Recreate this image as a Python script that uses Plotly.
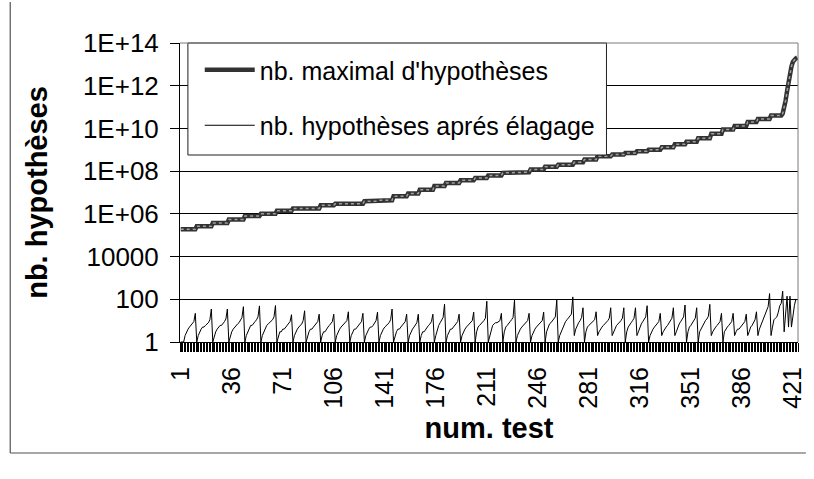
import plotly.graph_objects as go

# Test numbers (category axis) and the labelled ticks
tests = list(range(1, 425))
tick_pos = [1, 36, 71, 106, 141, 176, 211, 246, 281, 316, 351, 386, 421]
tick_txt = ["1", "36", "71", "106", "141", "176", "211", "246", "281", "316", "351", "386", "421"]

y_tick_vals = [1, 1e2, 1e4, 1e6, 1e8, 1e10, 1e12, 1e14]
y_tick_txt = ["1", "100", "10000", "1E+06", "1E+08", "1E+10", "1E+12", "1E+14"]

# Maximal number of hypotheses per test
max_hyp = [
    1.9e5, 1.9e5, 1.9e5, 1.9e5, 1.9e5, 1.9e5, 1.9e5, 1.9e5, 1.9e5, 1.9e5, 1.9e5,
    2.6e5, 2.6e5, 2.6e5, 2.6e5, 2.6e5, 2.6e5, 2.6e5, 2.6e5, 2.6e5, 2.6e5, 2.6e5,
    3.7e5, 3.7e5, 3.7e5, 3.7e5, 3.7e5, 3.7e5, 3.7e5, 3.7e5, 3.7e5, 3.7e5, 3.7e5,
    5.4e5, 5.4e5, 5.4e5, 5.4e5, 5.4e5, 5.4e5, 5.4e5, 5.4e5, 5.4e5, 5.4e5, 5.4e5,
    7.9e5, 7.9e5, 7.9e5, 7.9e5, 7.9e5, 7.9e5, 7.9e5, 7.9e5, 7.9e5, 7.9e5, 7.9e5,
    1.0e6, 1.0e6, 1.0e6, 1.0e6, 1.0e6, 1.0e6, 1.0e6, 1.0e6, 1.0e6, 1.0e6, 1.0e6,
    1.4e6, 1.4e6, 1.4e6, 1.4e6, 1.4e6, 1.4e6, 1.4e6, 1.4e6, 1.4e6, 1.4e6, 1.4e6,
    1.8e6, 1.8e6, 1.8e6, 1.8e6, 1.8e6, 1.8e6, 1.8e6, 1.8e6, 1.8e6,
    1.8e6, 1.8e6, 1.8e6, 1.8e6, 1.8e6, 1.8e6, 1.8e6, 1.8e6, 1.8e6, 1.8e6,
    2.5e6, 2.5e6, 2.5e6, 2.5e6, 2.5e6, 2.5e6, 2.5e6, 2.5e6, 2.5e6, 2.5e6,
    3.0e6, 3.0e6, 3.0e6, 3.0e6, 3.0e6, 3.0e6, 3.0e6, 3.0e6, 3.0e6, 3.0e6,
    3.0e6, 3.0e6, 3.0e6, 3.0e6, 3.0e6, 3.0e6, 3.0e6, 3.0e6, 3.0e6, 3.0e6,
    3.9e6, 3.9e6, 3.9e6, 3.9e6, 3.9e6, 3.9e6, 3.9e6, 3.9e6, 3.9e6, 3.9e6,
    4.3e6, 4.3e6, 4.3e6, 4.3e6, 4.3e6, 4.3e6, 4.3e6, 4.3e6, 4.3e6, 4.3e6,
    6.6e6, 6.6e6, 6.6e6, 6.6e6, 6.6e6, 6.6e6, 6.6e6, 6.6e6, 6.6e6, 6.6e6,
    8.9e6, 8.9e6, 8.9e6, 8.9e6, 8.9e6, 8.9e6, 8.9e6, 8.9e6,
    1.35e7, 1.35e7, 1.35e7, 1.35e7, 1.35e7, 1.35e7, 1.35e7, 1.35e7, 1.35e7, 1.35e7,
    2.0e7, 2.0e7, 2.0e7, 2.0e7, 2.0e7, 2.0e7, 2.0e7, 2.0e7,
    2.8e7, 2.8e7, 2.8e7, 2.8e7, 2.8e7, 2.8e7, 2.8e7, 2.8e7, 2.8e7, 2.8e7,
    3.7e7, 3.7e7, 3.7e7, 3.7e7, 3.7e7, 3.7e7, 3.7e7, 3.7e7, 3.7e7, 3.7e7,
    4.8e7, 4.8e7, 4.8e7, 4.8e7, 4.8e7, 4.8e7, 4.8e7, 4.8e7, 4.8e7,
    6.3e7, 6.3e7, 6.3e7, 6.3e7, 6.3e7, 6.3e7, 6.3e7, 6.3e7, 6.3e7, 6.3e7,
    8.3e7, 8.3e7, 8.3e7, 8.3e7, 8.3e7, 8.3e7, 8.3e7, 8.3e7, 8.3e7,
    8.9e7, 8.9e7, 8.9e7, 8.9e7, 8.9e7, 8.9e7, 8.9e7, 8.9e7, 8.9e7, 8.9e7,
    1.2e8, 1.2e8, 1.2e8, 1.2e8, 1.2e8, 1.2e8, 1.2e8, 1.2e8, 1.2e8, 1.2e8,
    1.6e8, 1.6e8, 1.6e8, 1.6e8, 1.6e8, 1.6e8, 1.6e8, 1.6e8, 1.6e8,
    2.0e8, 2.0e8, 2.0e8, 2.0e8, 2.0e8, 2.0e8, 2.0e8, 2.0e8, 2.0e8, 2.0e8, 2.0e8,
    2.6e8, 2.6e8, 2.6e8, 2.6e8, 2.6e8, 2.6e8, 2.6e8,
    3.5e8, 3.5e8, 3.5e8, 3.5e8, 3.5e8, 3.5e8, 3.5e8, 3.5e8, 3.5e8,
    5.0e8, 5.0e8, 5.0e8, 5.0e8, 5.0e8, 5.0e8, 5.0e8, 5.0e8, 5.0e8, 5.0e8,
    6.0e8, 6.0e8, 6.0e8, 6.0e8, 6.0e8, 6.0e8, 6.0e8, 6.0e8, 6.0e8,
    7.1e8, 7.1e8, 7.1e8, 7.1e8, 7.1e8, 7.1e8, 7.1e8, 7.1e8,
    8.5e8, 8.5e8, 8.5e8, 8.5e8, 8.5e8, 8.5e8, 8.5e8, 8.5e8,
    1.0e9, 1.0e9, 1.0e9, 1.0e9, 1.0e9, 1.0e9, 1.0e9, 1.0e9, 1.0e9,
    1.3e9, 1.3e9, 1.3e9, 1.3e9, 1.3e9, 1.3e9, 1.3e9, 1.3e9, 1.3e9,
    1.8e9, 1.8e9, 1.8e9, 1.8e9, 1.8e9, 1.8e9, 1.8e9, 1.8e9,
    2.4e9, 2.4e9, 2.4e9, 2.4e9, 2.4e9, 2.4e9, 2.4e9, 2.4e9,
    3.5e9, 3.5e9, 3.5e9, 3.5e9, 3.5e9, 3.5e9, 3.5e9, 3.5e9, 3.5e9,
    5.6e9, 5.6e9, 5.6e9, 5.6e9, 5.6e9, 5.6e9, 5.6e9, 5.6e9,
    8.9e9, 8.9e9, 8.9e9, 8.9e9, 8.9e9, 8.9e9, 8.9e9, 8.9e9,
    1.3e10, 1.3e10, 1.3e10, 1.3e10, 1.3e10, 1.3e10, 1.3e10, 1.3e10, 1.3e10,
    2.0e10, 2.0e10, 2.0e10, 2.0e10, 2.0e10, 2.0e10, 2.0e10,
    2.8e10, 2.8e10, 2.8e10, 2.8e10, 2.8e10, 2.8e10, 2.8e10, 2.8e10, 2.8e10,
    4.0e10, 4.0e10, 4.0e10, 4.0e10, 4.0e10, 4.0e10, 4.0e10, 4.0e10,
    5.0e10, 8.9e10, 2.0e11, 5.6e11, 1.6e12, 4.0e12, 7.9e12, 1.3e13, 1.7e13, 1.9e13, 2.1e13,
]

# Number of hypotheses kept after pruning
pruned_hyp = [
    1, 1, 1, 2, 3, 4, 5, 6, 7, 9, 22,
    1, 2, 3, 4, 5, 5, 6, 7, 8, 11, 35,
    1, 2, 3, 4, 5, 6, 6, 7, 9, 12, 35,
    1, 2, 3, 4, 5, 6, 7, 8, 10, 14, 45,
    1, 2, 3, 5, 6, 6, 7, 9, 11, 15, 49,
    1, 2, 3, 5, 6, 7, 8, 9, 11, 15, 51,
    1, 2, 3, 3, 4, 4, 5, 6, 7, 9, 19,
    1, 2, 3, 4, 5, 6, 7, 10, 29,
    1, 2, 3, 4, 4, 5, 6, 7, 9, 20,
    1, 2, 3, 3, 4, 5, 6, 7, 9, 20,
    1, 2, 3, 4, 5, 6, 7, 8, 10, 26,
    1, 2, 3, 4, 4, 5, 6, 7, 9, 22,
    1, 2, 3, 4, 5, 5, 6, 8, 10, 25,
    1, 2, 3, 4, 5, 6, 7, 8, 11, 35,
    1, 2, 3, 4, 4, 5, 6, 7, 9, 20,
    1, 2, 3, 4, 5, 6, 8, 20,
    1, 2, 3, 3, 4, 5, 6, 7, 9, 20,
    1, 2, 4, 6, 8, 10, 14, 59,
    1, 2, 3, 4, 4, 5, 6, 7, 9, 20,
    1, 2, 3, 4, 5, 6, 7, 8, 10, 25,
    1, 3, 5, 6, 7, 8, 10, 13, 81,
    1, 2, 4, 6, 7, 8, 8, 9, 10, 22,
    1, 3, 5, 6, 8, 9, 11, 14, 91,
    1, 2, 3, 4, 5, 6, 7, 8, 10, 22,
    1, 2, 3, 4, 5, 6, 7, 8, 10, 25,
    1, 3, 5, 7, 8, 10, 12, 15, 91,
    1, 2, 3, 5, 7, 9, 11, 13, 16, 20, 129,
    2, 4, 6, 8, 10, 14, 40,
    1, 3, 5, 6, 7, 8, 9, 11, 26,
    2, 3, 4, 5, 6, 7, 8, 10, 13, 40,
    2, 3, 5, 6, 7, 8, 10, 13, 40,
    1, 3, 5, 6, 8, 10, 13, 40,
    2, 3, 5, 7, 9, 11, 15, 50,
    1, 2, 3, 4, 5, 6, 7, 9, 22,
    2, 3, 4, 5, 6, 8, 10, 13, 40,
    2, 3, 5, 7, 9, 12, 15, 54,
    1, 3, 5, 6, 8, 10, 13, 40,
    1, 3, 4, 6, 8, 10, 12, 16, 58,
    2, 3, 4, 5, 6, 7, 9, 22,
    1, 3, 4, 5, 6, 7, 9, 22,
    2, 3, 4, 4, 5, 6, 7, 9, 20,
    2, 3, 5, 6, 8, 11, 26,
    2, 4, 6, 9, 12, 18, 26, 45, 186,
    2, 5, 11, 13, 15, 25, 50, 65, 240, 3, 30, 140, 5, 140, 5, 20, 50, 100, 93,
]

assert len(max_hyp) == len(tests) == len(pruned_hyp)

FONT = "Liberation Sans, Arial, sans-serif"

fig = go.Figure()

# Thick textured line for the maximal count (dark band + light dotted core)
fig.add_trace(go.Scatter(
    x=tests, y=max_hyp, mode="lines", name="nb. maximal d'hypothèses",
    line=dict(color="#333333", width=4.5), legendgroup="a",
))
fig.add_trace(go.Scatter(
    x=tests, y=max_hyp, mode="lines", showlegend=False, hoverinfo="skip",
    line=dict(color="#a0a0a0", width=1.5, dash="dot"), legendgroup="a",
))
fig.add_trace(go.Scatter(
    x=tests, y=pruned_hyp, mode="lines", name="nb. hypothèses aprés élagage",
    line=dict(color="black", width=1), legendgroup="b",
))

# pixel -> paper helpers for the frame decorations
L, R, T, B, W, H = 180, 8, 43, 137, 814, 479
pw, ph = W - L - R, H - T - B


def px(x):
    return (x - L) / pw


def py(y):
    return (H - B - y) / ph


fig.update_layout(
    width=W, height=H,
    margin=dict(l=L, r=R, t=T, b=B),
    paper_bgcolor="white", plot_bgcolor="white",
    font=dict(family=FONT, size=25, color="black"),
    showlegend=True,
    legend=dict(
        x=px(200), y=py(47), xanchor="left", yanchor="top",
        bgcolor="rgba(0,0,0,0)", borderwidth=0,
        font=dict(family=FONT, size=25, color="black"),
        tracegroupgap=20, itemwidth=50,
    ),
    xaxis=dict(
        range=[0.5, 424.5],
        tickmode="array", tickvals=tick_pos, ticktext=tick_txt,
        tickangle=-90, ticks="outside", ticklen=9, tickcolor="black",
        ticklabelstandoff=5,
        minor=dict(tick0=0.5, dtick=1, ticks="outside", ticklen=9,
                   tickcolor="black", tickwidth=1, showgrid=False),
        showline=True, linecolor="black", linewidth=1,
        showgrid=False, zeroline=False,
        tickfont=dict(family=FONT, size=25),
        title=dict(text="<b>num. test</b>", standoff=9,
                   font=dict(family=FONT, size=29)),
    ),
    yaxis=dict(
        type="log", range=[0, 14],
        tickmode="array", tickvals=y_tick_vals, ticktext=y_tick_txt,
        ticks="outside", ticklen=9, tickcolor="black",
        ticklabelstandoff=6,
        showline=True, linecolor="black", linewidth=1,
        showgrid=True, gridcolor="black", gridwidth=1, zeroline=False,
        tickfont=dict(family=FONT, size=26),
        title=dict(text="<b>nb. hypothèses</b>", standoff=26,
                   font=dict(family=FONT, size=29)),
    ),
    shapes=[
        # legend frame, opaque so it hides the gridlines behind it
        dict(type="rect", xref="paper", yref="paper",
             x0=px(188), x1=px(612), y0=py(155), y1=py(43),
             fillcolor="white", line=dict(color="#202020", width=1), layer="above"),
        # plot area border on the top and right sides
        dict(type="line", xref="paper", yref="paper", x0=0, x1=1, y0=1, y1=1,
             line=dict(color="#7a7a7a", width=1)),
        dict(type="line", xref="paper", yref="paper", x0=1, x1=1, y0=0, y1=1,
             line=dict(color="#7a7a7a", width=1)),
        # chart area frame (left and bottom edges)
        dict(type="line", xref="paper", yref="paper", x0=px(8), x1=px(8), y0=py(453), y1=py(2),
             line=dict(color="#303030", width=1)),
        dict(type="line", xref="paper", yref="paper", x0=px(8), x1=px(814), y0=py(453), y1=py(453),
             line=dict(color="#505050", width=1)),
    ],
)

fig.write_html("out.html")
